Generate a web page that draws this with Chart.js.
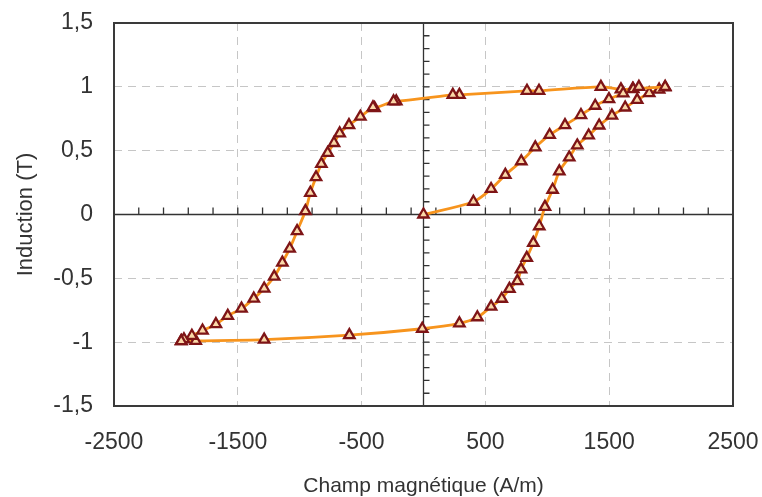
<!DOCTYPE html>
<html>
<head>
<meta charset="utf-8">
<script src="https://cdn.jsdelivr.net/npm/chart.js@4.4.0/dist/chart.umd.min.js"></script>
<style>
  html, body { margin: 0; padding: 0; background: #fff; }
  #wrap { width: 762px; height: 497px; }
</style>
</head>
<body>
<div id="wrap"><canvas id="chart" width="762" height="497"></canvas></div>
<script>
// première aimantation
const virginH = [0, 403, 546, 661, 790, 903, 1019, 1143, 1272, 1387, 1498, 1613, 1694, 1740];
const virginB = [0, 0.10, 0.20, 0.31, 0.417, 0.526, 0.623, 0.70, 0.779, 0.852, 0.904, 0.948, 0.982, 1.0];

// branche descendante
const downH = [1952, 1690, 1595, 1433, 933, 836, 290, 237, -220, -242, -395, -408, -510, -602, -677, -723,
  -774, -825, -868, -914, -954, -1021, -1081, -1140, -1206, -1287, -1371, -1470, -1581, -1677, -1785,
  -1871, -1935, -1957];
const downB = [1.0, 0.985, 0.98, 1.0, 0.969, 0.969, 0.9375, 0.9375, 0.886, 0.886, 0.833, 0.84, 0.766, 0.70,
  0.636, 0.56, 0.482, 0.396, 0.292, 0.17, 0.027, -0.13, -0.268, -0.377, -0.487, -0.58, -0.659, -0.737,
  -0.794, -0.859, -0.909, -0.95, -0.977, -0.992];

// branche montante
const upH = [-1957, -1840, -1287, -599, -10, 290, 435, 546, 632, 694, 758, 788, 834, 887, 935, 981, 1043,
  1097, 1177, 1242, 1334, 1419, 1522, 1629, 1726, 1823, 1903, 1952];
const upB = [-0.992, -0.99, -0.98, -0.945, -0.895, -0.853, -0.805, -0.722, -0.66, -0.582, -0.522, -0.43,
  -0.34, -0.222, -0.092, 0.06, 0.194, 0.338, 0.447, 0.541, 0.619, 0.697, 0.775, 0.838, 0.898, 0.95,
  0.978, 0.995];

const xMin = -2500, xMax = 2500, xStep = 1000, xMinorStep = 200;
const yMin = -1.5, yMax = 1.5, yStep = 0.5, yMinorStep = 0.1;

const lineColor = '#F7941D';
const markerColor = '#7E1416';
const font = 'Liberation Sans, Arial, sans-serif';

const toPoints = (hs, bs) => hs.map((h, i) => ({ x: h, y: bs[i] }));

const branch = (label, hs, bs) => ({
  label,
  data: toPoints(hs, bs),
  borderColor: lineColor,
  borderWidth: 2.8,
  tension: 0.3,
  pointStyle: 'triangle',
  pointRadius: 6,
  pointBorderWidth: 2.3,
  pointBorderColor: markerColor,
  pointBackgroundColor: '#FBD9A8',
  fill: false
});

// axes qui se croisent en zéro, avec petites graduations, et cadre
const crossAxes = {
  id: 'crossAxes',
  beforeDatasetsDraw(chart) {
    const { ctx, chartArea: a, scales: { x, y } } = chart;
    const x0 = x.getPixelForValue(0), y0 = y.getPixelForValue(0);
    ctx.save();
    ctx.strokeStyle = '#333';
    ctx.lineWidth = 1.3;
    ctx.beginPath();
    ctx.moveTo(a.left, y0); ctx.lineTo(a.right, y0);
    ctx.moveTo(x0, a.top); ctx.lineTo(x0, a.bottom);
    for (let v = xMin + xMinorStep; v < xMax; v += xMinorStep) {
      const px = x.getPixelForValue(v);
      ctx.moveTo(px, y0); ctx.lineTo(px, y0 - 7);
    }
    const n = Math.round((yMax - yMin) / yMinorStep);
    for (let k = 1; k < n; k++) {
      const py = y.getPixelForValue(yMin + k * yMinorStep);
      ctx.moveTo(x0, py); ctx.lineTo(x0 + 6, py);
    }
    ctx.stroke();
    ctx.restore();
  },
  afterDraw(chart) {
    const { ctx, chartArea: a } = chart;
    ctx.save();
    ctx.strokeStyle = '#3a3a3a';
    ctx.lineWidth = 2;
    ctx.strokeRect(a.left, a.top, a.right - a.left, a.bottom - a.top);
    ctx.restore();
  }
};

const gridColor = c => (c.tick.value === 0 || c.tick.value === xMin || c.tick.value === xMax ||
  c.tick.value === yMin || c.tick.value === yMax) ? 'rgba(0,0,0,0)' : '#c6c6c6';

new Chart(document.querySelector('#chart'), {
  type: 'line',
  data: {
    datasets: [
      branch('Première aimantation', virginH, virginB),
      branch('Descendante', downH, downB),
      branch('Montante', upH, upB)
    ]
  },
  options: {
    responsive: false,
    animation: false,
    layout: { padding: { left: 0, right: 29, top: 23, bottom: 0 } },
    plugins: { legend: { display: false }, tooltip: { enabled: false } },
    scales: {
      x: {
        type: 'linear',
        min: xMin,
        max: xMax,
        afterFit: s => { s.height = 91; s.paddingLeft = 0; s.paddingRight = 0; },
        ticks: {
          stepSize: xStep,
          autoSkip: false,
          maxRotation: 0,
          padding: 23,
          color: '#333',
          font: { family: font, size: 23 },
          callback: v => String(v)
        },
        grid: { color: gridColor, lineWidth: 1, drawTicks: false },
        border: { display: false, dash: [8, 6] },
        title: {
          display: true,
          text: 'Champ magnétique (A/m)',
          color: '#333',
          font: { family: font, size: 21, lineHeight: 1 },
          padding: { top: 0, bottom: 0 }
        }
      },
      y: {
        type: 'linear',
        min: yMin,
        max: yMax,
        afterFit: s => { s.width = 114; s.paddingTop = 0; s.paddingBottom = 0; },
        ticks: {
          stepSize: yStep,
          padding: 21,
          color: '#333',
          font: { family: font, size: 23 },
          callback: v => String(v).replace('.', ',')
        },
        grid: { color: gridColor, lineWidth: 1, drawTicks: false },
        border: { display: false, dash: [8, 6] },
        title: {
          display: true,
          text: 'Induction (T)',
          color: '#333',
          font: { family: font, size: 22, lineHeight: 1 },
          padding: { top: 15, bottom: 0 }
        }
      }
    }
  },
  plugins: [crossAxes]
});
</script>
</body>
</html>
